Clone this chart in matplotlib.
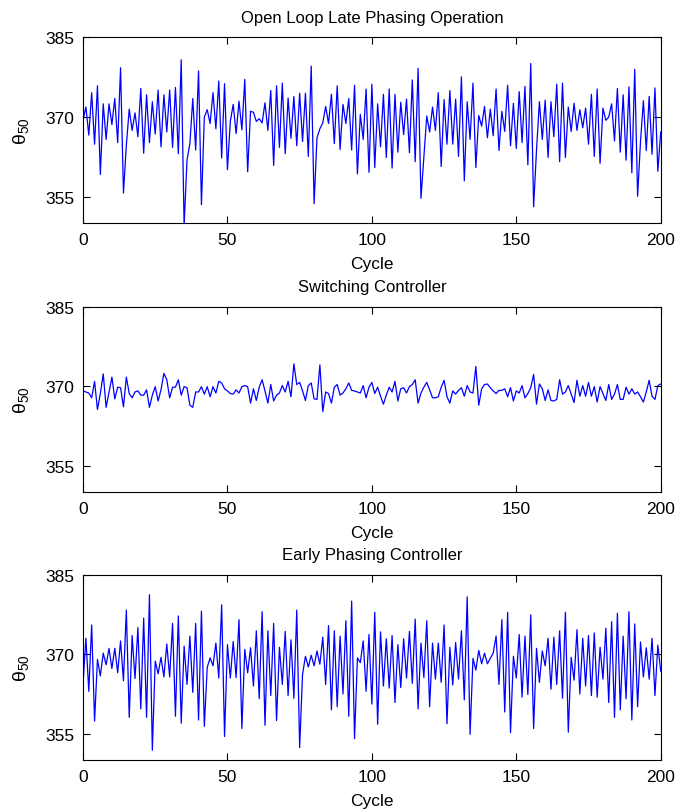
import matplotlib
matplotlib.use('Agg')
import matplotlib.pyplot as plt
import numpy as np

plt.rcParams['font.family'] = ['Liberation Sans', 'DejaVu Sans']
plt.rcParams['mathtext.fontset'] = 'custom'
plt.rcParams['mathtext.rm'] = 'Liberation Sans'
plt.rcParams['mathtext.it'] = 'Liberation Sans:italic'

# combustion phasing per cycle, three runs
open_loop = [
    369.4, 371.9, 366.6, 374.6, 364.9, 375.9, 359.2, 372.5, 365.8, 372.5,
    368.6, 373.5, 365.2, 379.3, 355.7, 364.7, 371.5, 367.5, 370.8, 366.3,
    375.4, 363.2, 374.2, 365.2, 372.9, 366.8, 375.1, 364.4, 374.2, 367.2,
    375.1, 364.3, 375.6, 363.1, 380.8, 349.5, 361.9, 365.0, 373.5, 363.8,
    378.7, 353.5, 370.0, 371.4, 368.8, 374.6, 367.8, 376.8, 362.3, 376.3,
    360.1, 369.2, 372.4, 366.9, 373.0, 367.6, 377.1, 359.7, 371.1, 370.9,
    369.2, 369.7, 368.9, 372.7, 367.5, 375.0, 360.9, 375.9, 364.3, 376.4,
    363.1, 373.6, 366.0, 373.9, 364.6, 374.5, 365.4, 374.5, 362.6, 379.6,
    353.7, 366.1, 367.8, 368.9, 372.0, 368.8, 374.3, 365.0, 375.9, 363.9,
    372.4, 368.8, 373.5, 363.8, 376.0, 359.3, 370.5, 365.8, 375.3, 359.6,
    376.2, 360.5, 372.5, 364.4, 374.3, 362.4, 375.3, 360.4, 374.3, 363.4,
    372.8, 366.7, 373.4, 363.3, 377.0, 361.6, 379.2, 354.7, 362.4, 370.2,
    367.2, 371.9, 367.5, 374.6, 360.7, 373.3, 364.9, 375.0, 364.9, 373.4,
    362.6, 377.6, 358.0, 372.9, 365.8, 376.4, 360.5, 370.3, 368.3, 372.0,
    366.1, 371.5, 366.5, 375.3, 363.7, 371.1, 367.3, 376.0, 364.6, 372.6,
    364.1, 374.8, 365.2, 375.8, 361.0, 380.1, 353.1, 363.8, 372.9, 365.8,
    373.2, 362.4, 372.9, 366.3, 376.2, 361.6, 376.4, 362.4, 371.9, 367.3,
    372.6, 367.5, 371.4, 368.0, 371.7, 364.9, 374.3, 362.6, 375.3, 361.3,
    371.7, 369.4, 370.0, 372.5, 365.5, 375.4, 363.4, 374.2, 361.9, 375.7,
    359.5, 379.0, 355.1, 365.4, 373.1, 363.7, 373.9, 363.0, 375.5, 359.8,
    367.2,
]

switching = [
    369.1, 368.9, 368.7, 367.8, 370.9, 365.6, 368.6, 372.3, 366.0, 368.9,
    371.7, 367.6, 369.8, 369.7, 366.1, 371.7, 368.6, 367.8, 368.9, 369.1,
    368.3, 368.3, 369.3, 366.0, 368.3, 369.9, 367.2, 369.3, 372.4, 371.2,
    367.8, 369.8, 369.8, 371.2, 368.3, 369.9, 369.7, 366.4, 366.0, 368.9,
    368.9, 369.9, 368.5, 369.9, 368.0, 369.9, 368.7, 370.9, 370.6, 369.5,
    369.1, 368.6, 368.5, 369.3, 368.7, 369.9, 370.1, 369.9, 366.8, 369.5,
    367.3, 369.8, 371.2, 369.1, 366.8, 370.3, 367.2, 368.3, 368.7, 370.1,
    368.9, 370.9, 368.0, 374.2, 370.3, 370.7, 369.1, 367.3, 370.1, 370.6,
    367.6, 367.5, 374.0, 365.2, 368.9, 368.6, 366.8, 369.8, 370.3, 368.3,
    368.7, 369.5, 370.6, 369.2, 369.1, 368.9, 368.7, 370.1, 367.8, 369.8,
    370.7, 368.6, 369.8, 368.1, 366.6, 368.3, 369.8, 368.9, 370.9, 367.2,
    369.5, 369.7, 368.7, 369.9, 370.3, 371.2, 366.8, 368.7, 369.8, 370.7,
    369.3, 367.8, 367.8, 368.0, 369.8, 371.1, 368.0, 366.8, 369.1, 368.5,
    369.2, 369.7, 368.1, 370.1, 368.9, 368.7, 373.7, 366.4, 369.5, 370.3,
    370.4, 369.7, 369.1, 368.6, 369.2, 369.2, 369.5, 368.0, 369.7, 367.2,
    369.1, 368.7, 370.1, 367.8, 368.6, 369.7, 372.2, 366.6, 370.4, 369.5,
    367.3, 369.3, 367.3, 367.2, 367.5, 371.2, 368.5, 368.9, 370.1, 368.5,
    366.9, 371.1, 368.1, 370.1, 368.1, 370.7, 368.1, 369.9, 367.0, 369.9,
    368.6, 367.3, 370.3, 367.5, 368.5, 370.3, 367.5, 367.5, 369.8, 368.5,
    369.5, 368.5, 368.9, 368.0, 367.0, 368.9, 371.1, 368.1, 367.5, 370.1,
    370.4,
]

early = [
    364.3, 373.0, 363.0, 375.5, 357.4, 369.0, 365.9, 370.2, 368.0, 371.1,
    367.3, 371.1, 366.5, 372.5, 365.0, 378.3, 358.1, 373.5, 365.4, 375.0,
    359.7, 376.8, 358.1, 381.2, 351.9, 368.7, 366.3, 369.4, 365.7, 371.9,
    365.7, 375.8, 358.3, 377.2, 357.0, 371.5, 364.3, 373.4, 362.8, 375.8,
    357.6, 378.1, 356.4, 367.5, 369.3, 367.8, 372.1, 365.5, 379.3, 354.5,
    371.8, 365.5, 372.4, 365.6, 376.5, 356.0, 370.9, 366.5, 371.2, 364.0,
    374.4, 361.6, 378.0, 356.6, 374.4, 362.2, 375.8, 357.5, 371.3, 364.3,
    374.3, 362.2, 372.7, 361.7, 378.3, 352.4, 366.2, 369.6, 367.6, 369.8,
    367.8, 370.6, 368.1, 373.2, 364.3, 375.4, 359.5, 374.4, 360.1, 373.4,
    362.5, 376.3, 358.3, 380.0, 354.1, 369.3, 368.4, 372.5, 363.0, 373.7,
    360.6, 377.9, 356.8, 374.2, 364.0, 372.9, 363.6, 373.5, 360.9, 371.8,
    363.7, 372.9, 365.5, 374.3, 364.5, 376.6, 359.7, 372.1, 365.6, 376.3,
    360.1, 372.1, 365.3, 372.1, 364.7, 375.5, 356.9, 371.3, 364.2, 372.2,
    365.3, 374.4, 361.4, 380.8, 354.9, 369.2, 367.0, 370.7, 368.2, 370.2,
    368.2, 369.2, 370.2, 373.4, 364.3, 376.5, 359.1, 377.9, 355.2, 369.6,
    365.5, 373.7, 361.9, 373.4, 362.4, 377.4, 356.0, 371.1, 364.7, 370.6,
    367.8, 373.0, 363.4, 373.2, 364.3, 374.4, 361.7, 377.9, 355.3, 369.4,
    365.1, 374.6, 362.5, 373.0, 364.0, 373.5, 362.2, 374.0, 361.9, 371.3,
    365.3, 374.9, 360.9, 376.1, 358.1, 377.7, 359.5, 373.4, 361.6, 378.0,
    357.6, 375.7, 360.1, 372.3, 365.7, 371.2, 365.3, 373.0, 362.2, 371.7,
    366.8,
]

titles = ['Open Loop Late Phasing Operation', 'Switching Controller',
          'Early Phasing Controller']
y_ticks = [355, 370, 385]
x_ticks = [0, 50, 100, 150, 200]


def main():
    fig = plt.figure(figsize=(6.76, 8.12), dpi=100)
    bottoms = [0.7238, 0.3925, 0.0624]
    series = [open_loop, switching, early]
    for bottom, data, title in zip(bottoms, series, titles):
        ax = fig.add_axes([0.1228, bottom, 0.8546, 0.2288])
        cycles = np.arange(len(data))
        ax.plot(cycles, data, color='#0000ff', linewidth=0.9)
        ax.set_xlim(0, 200)
        ax.set_ylim(350, 385)
        ax.set_xticks(x_ticks)
        ax.set_yticks(y_ticks)
        ax.tick_params(direction='in', top=True, right=True, length=5,
                       width=0.8, labelsize=12.5, pad=6)
        for spine in ax.spines.values():
            spine.set_linewidth(0.8)
        ax.set_title(title, fontsize=12, pad=11)
        ax.set_xlabel('Cycle', fontsize=12.5)
        ax.xaxis.set_label_coords(0.5, -0.175)
        ax.set_ylabel(r'θ$_{50}$', fontsize=14)
        ax.yaxis.set_label_coords(-0.09, 0.5)
    fig.savefig('out.png', dpi=100)


if __name__ == '__main__':
    main()
